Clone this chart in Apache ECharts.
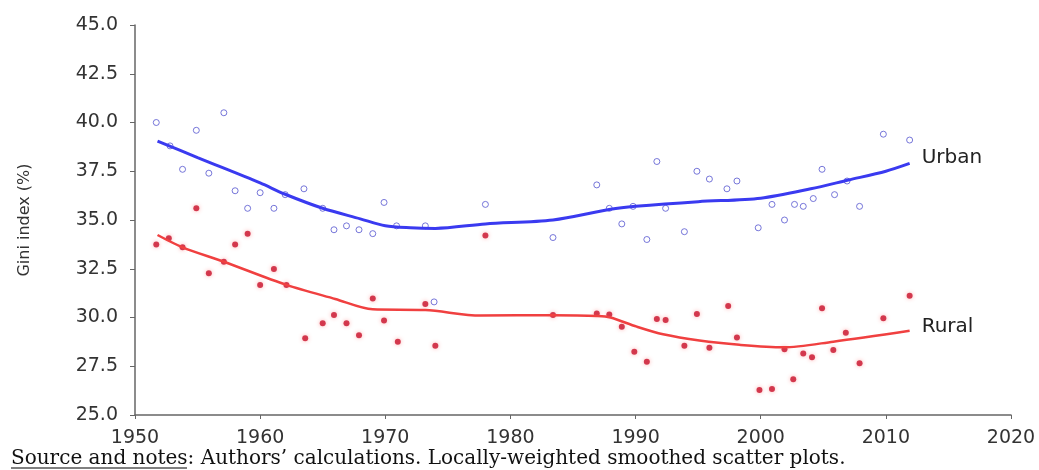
<!DOCTYPE html>
<html>
<head>
<meta charset="utf-8">
<script src="https://cdn.jsdelivr.net/npm/echarts@6/dist/echarts.min.js"></script>
<style>
  html, body { margin: 0; padding: 0; background: #fff; }
  #GiniChart { width: 1039px; height: 470px; }
</style>
</head>
<body>
<div id="GiniChart"></div>
<script>
const urbanObs = [
  [1951.7, 40.0], [1952.8, 38.8], [1953.8, 37.6], [1954.9, 39.6], [1955.9, 37.4], [1957.1, 40.5],
  [1958.0, 36.5], [1959.0, 35.6], [1960.0, 36.4], [1961.1, 35.6], [1962.0, 36.3], [1963.5, 36.6],
  [1965.0, 35.6], [1965.9, 34.5], [1966.9, 34.7], [1967.9, 34.5], [1969.0, 34.3], [1969.9, 35.9],
  [1970.9, 34.7], [1973.2, 34.7], [1973.9, 30.8], [1978.0, 35.8], [1983.4, 34.1], [1986.9, 36.8],
  [1987.9, 35.6], [1988.9, 34.8], [1989.8, 35.7], [1990.9, 34.0], [1991.7, 38.0], [1992.4, 35.6],
  [1993.9, 34.4], [1994.9, 37.5], [1995.9, 37.1], [1997.3, 36.6], [1998.1, 37.0], [1999.8, 34.6],
  [2000.9, 35.8], [2001.9, 35.0], [2002.7, 35.8], [2003.4, 35.7], [2004.2, 36.1], [2004.9, 37.6],
  [2005.9, 36.3], [2006.9, 37.0], [2007.9, 35.7], [2009.8, 39.4], [2011.9, 39.1]
];
const ruralObs = [
  [1951.7, 33.75], [1952.7, 34.06], [1953.8, 33.6], [1954.9, 35.6], [1955.9, 32.27], [1957.1, 32.86],
  [1958.0, 33.75], [1959.0, 34.3], [1960.0, 31.67], [1961.1, 32.49], [1962.1, 31.67], [1963.6, 28.93],
  [1965.0, 29.7], [1965.9, 30.13], [1966.9, 29.7], [1967.9, 29.09], [1969.0, 30.98], [1969.9, 29.84],
  [1971.0, 28.76], [1973.2, 30.69], [1974.0, 28.55], [1978.0, 34.2], [1983.4, 30.13], [1986.9, 30.2],
  [1987.9, 30.16], [1988.9, 29.53], [1989.9, 28.25], [1990.9, 27.73], [1991.7, 29.92], [1992.4, 29.87],
  [1993.9, 28.55], [1994.9, 30.18], [1995.9, 28.45], [1997.4, 30.59], [1998.1, 28.98], [1999.9, 26.28],
  [2000.9, 26.33], [2001.9, 28.37], [2002.6, 26.83], [2003.4, 28.16], [2004.1, 27.96], [2004.9, 30.47],
  [2005.8, 28.33], [2006.8, 29.22], [2007.9, 27.65], [2009.8, 29.96], [2011.9, 31.12]
];

// locally-weighted smoothed curves
const urbanFit = [
  [1951.8, 39.05], [1955, 38.2], [1960, 36.9], [1962, 36.32], [1965, 35.6], [1968, 35.06],
  [1970, 34.7], [1972, 34.6], [1974, 34.57], [1978, 34.8], [1983.4, 35.0], [1988, 35.55],
  [1990, 35.7], [1995, 35.94], [2000, 36.12], [2004, 36.6], [2007, 37.05], [2010, 37.5], [2011.9, 37.9]
];
const ruralFit = [
  [1951.8, 34.23], [1953.8, 33.6], [1957.1, 32.86], [1962.1, 31.67], [1966, 30.95], [1969, 30.42],
  [1973.2, 30.38], [1977.6, 30.1], [1983.4, 30.12], [1987, 30.08], [1988, 30.0], [1990.1, 29.53],
  [1992.2, 29.14], [1995.1, 28.82], [1998.3, 28.6], [2001.8, 28.47], [2005.8, 28.76], [2011.9, 29.32]
];

const xMin = 1950, xMax = 2020, xStep = 10;
const yMin = 25, yMax = 45, yStep = 2.5;
const sourceNote = 'Source and notes';
const sourceRest = ': Authors\u2019 calculations. Locally-weighted smoothed scatter plots.';

const myChart = echarts.init(document.getElementById('GiniChart'));

const axisColor = '#666';
const labelFont = 'DejaVu Sans';
const option = {
  animation: false,
  grid: { left: 135, right: 28, top: 25, bottom: 55 },
  xAxis: {
    type: 'value',
    min: xMin,
    max: xMax,
    interval: xStep,
    axisLine: { lineStyle: { color: axisColor, width: 1.5 } },
    axisTick: { length: 4, lineStyle: { color: axisColor } },
    axisLabel: {
      color: '#333', fontSize: 19, fontFamily: labelFont, margin: 14,
      formatter: (v) => String(v)
    },
    splitLine: { show: false }
  },
  yAxis: {
    type: 'value',
    min: yMin,
    max: yMax,
    interval: yStep,
    name: 'Gini index (%)',
    nameLocation: 'middle',
    nameGap: 102,
    nameTextStyle: { color: '#333', fontSize: 16, fontFamily: labelFont },
    axisLine: { show: true, lineStyle: { color: axisColor, width: 1.5 } },
    axisTick: { show: true, length: 5, lineStyle: { color: axisColor } },
    axisLabel: {
      color: '#333', fontSize: 19, fontFamily: labelFont, margin: 17,
      formatter: (v) => v.toFixed(1)
    },
    splitLine: { show: false }
  },
  graphic: [
    {
      type: 'text', left: 11, top: 449,
      style: {
        text: sourceNote + sourceRest,
        font: '20px "DejaVu Serif"',
        fill: '#111'
      }
    },
    {
      type: 'line', shape: { x1: 11, y1: 468, x2: 187, y2: 468 },
      style: { stroke: '#555', lineWidth: 1.5 }
    }
  ],
  series: [
    {
      name: 'Urban obs',
      type: 'scatter',
      data: urbanObs,
      symbol: 'circle',
      symbolSize: 6,
      itemStyle: { color: '#fff', borderColor: '#5555d0', borderWidth: 1 },
      z: 2
    },
    {
      name: 'Rural obs',
      type: 'scatter',
      data: ruralObs,
      symbol: 'circle',
      symbolSize: 6,
      itemStyle: { color: '#c8102a', shadowColor: 'rgba(255,60,60,0.5)', shadowBlur: 4 },
      z: 2
    },
    {
      name: 'Urban',
      type: 'line',
      data: urbanFit,
      smooth: 0.3,
      showSymbol: false,
      lineStyle: { color: '#3a3af0', width: 3 },
      endLabel: {
        show: true, formatter: '{a}', distance: 12, offset: [0, -6],
        color: '#222', fontSize: 20, fontFamily: labelFont
      },
      z: 3
    },
    {
      name: 'Rural',
      type: 'line',
      data: ruralFit,
      smooth: 0.3,
      showSymbol: false,
      lineStyle: { color: '#f04040', width: 2.5 },
      endLabel: {
        show: true, formatter: '{a}', distance: 12, offset: [0, -4],
        color: '#222', fontSize: 20, fontFamily: labelFont
      },
      z: 3
    }
  ]
};
myChart.setOption(option);
window.addEventListener('resize', myChart.resize);
</script>
</body>
</html>
